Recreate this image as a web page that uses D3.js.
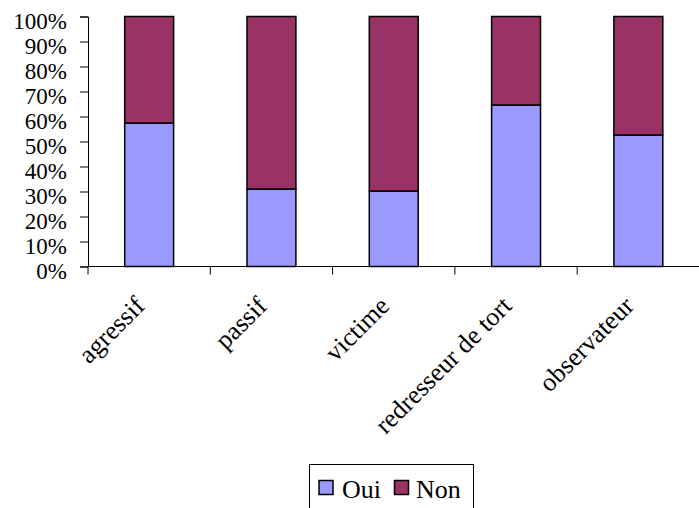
<!DOCTYPE html>
<html><head><meta charset="utf-8">
<script src="https://cdn.jsdelivr.net/npm/d3@7/dist/d3.min.js"></script>
</head><body style="margin:0">
<svg id="c" width="699" height="508"></svg>
<script>
const categories = ["agressif", "passif", "victime", "redresseur de tort", "observateur"];
const oui = [57.4, 31.0, 30.2, 64.6, 52.6];
const non = [42.6, 69.0, 69.8, 35.4, 47.4];
const seriesNames = ["Oui", "Non"];
const seriesColors = ["#9999FF", "#993366"];
const yTicks = [0, 10, 20, 30, 40, 50, 60, 70, 80, 90, 100];

const svg = d3.select("#c");
const FONT = "Liberation Serif";
const x = d3.scaleBand().domain(categories).range([88, 699.5]).paddingInner(0.6).paddingOuter(0.3);
const xb = d3.scaleBand().domain(categories).range([88, 699.5]);
const y = d3.scaleLinear().domain([0, 100]).range([266.5, 16.5]);

const rows = categories.map((c, i) => ({cat: c, Oui: oui[i], Non: non[i]}));
const stack = d3.stack().keys(seriesNames)(rows);

svg.append("g").selectAll("g").data(stack).join("g")
  .attr("fill", (d, i) => seriesColors[i])
  .selectAll("rect").data(d => d).join("rect")
  .attr("x", d => x(d.data.cat))
  .attr("width", x.bandwidth())
  .attr("y", d => y(d[1]))
  .attr("height", d => y(d[0]) - y(d[1]))
  .attr("stroke", "#000").attr("stroke-width", 1.5);

// y axis
const ya = svg.append("g").attr("transform", "translate(88,0)")
  .call(d3.axisLeft(y).tickValues(yTicks).tickFormat(d => d + "%").tickSize(8).tickPadding(13));
ya.select(".domain").attr("stroke", "#000");
ya.selectAll("line").attr("stroke", "#000");
ya.selectAll("text").style("font-family", () => `"${FONT}"`).attr("font-size", 23).attr("fill", "#000").attr("dy", "0.52em");

// x axis
const xa = svg.append("g").attr("transform", "translate(0,266.5)");
xa.append("line").attr("x1", 88).attr("x2", 699.5).attr("stroke", "#000");
xa.selectAll("line.t").data(categories).join("line").attr("class", "t")
  .attr("x1", d => xb(d)).attr("x2", d => xb(d)).attr("y1", 0).attr("y2", 8).attr("stroke", "#000");
xa.selectAll("text").data(categories).join("text")
  .attr("transform", d => `translate(${xb(d) + xb.bandwidth() / 2 - 3},${41}) rotate(-45)`)
  .attr("text-anchor", "end")
  .style("font-family", () => `"${FONT}"`).attr("font-size", 26).attr("fill", "#000")
  .text(d => d);

// legend
const lg = svg.append("g");
lg.append("rect").attr("x", 309.5).attr("y", 464.5).attr("width", 164).attr("height", 50)
  .attr("fill", "#fff").attr("stroke", "#000");
const lx = [319, 394.5];
const tx = [342, 416];
seriesNames.forEach((s, i) => {
  lg.append("rect").attr("x", lx[i]).attr("y", 480.5).attr("width", 14).attr("height", 14)
    .attr("fill", seriesColors[i]).attr("stroke", "#000").attr("stroke-width", 1.5);
  lg.append("text").attr("x", tx[i]).attr("y", 497.5).style("font-family", () => `"${FONT}"`).attr("font-size", 26)
    .attr("fill", "#000").text(s);
});
</script>
</body></html>
